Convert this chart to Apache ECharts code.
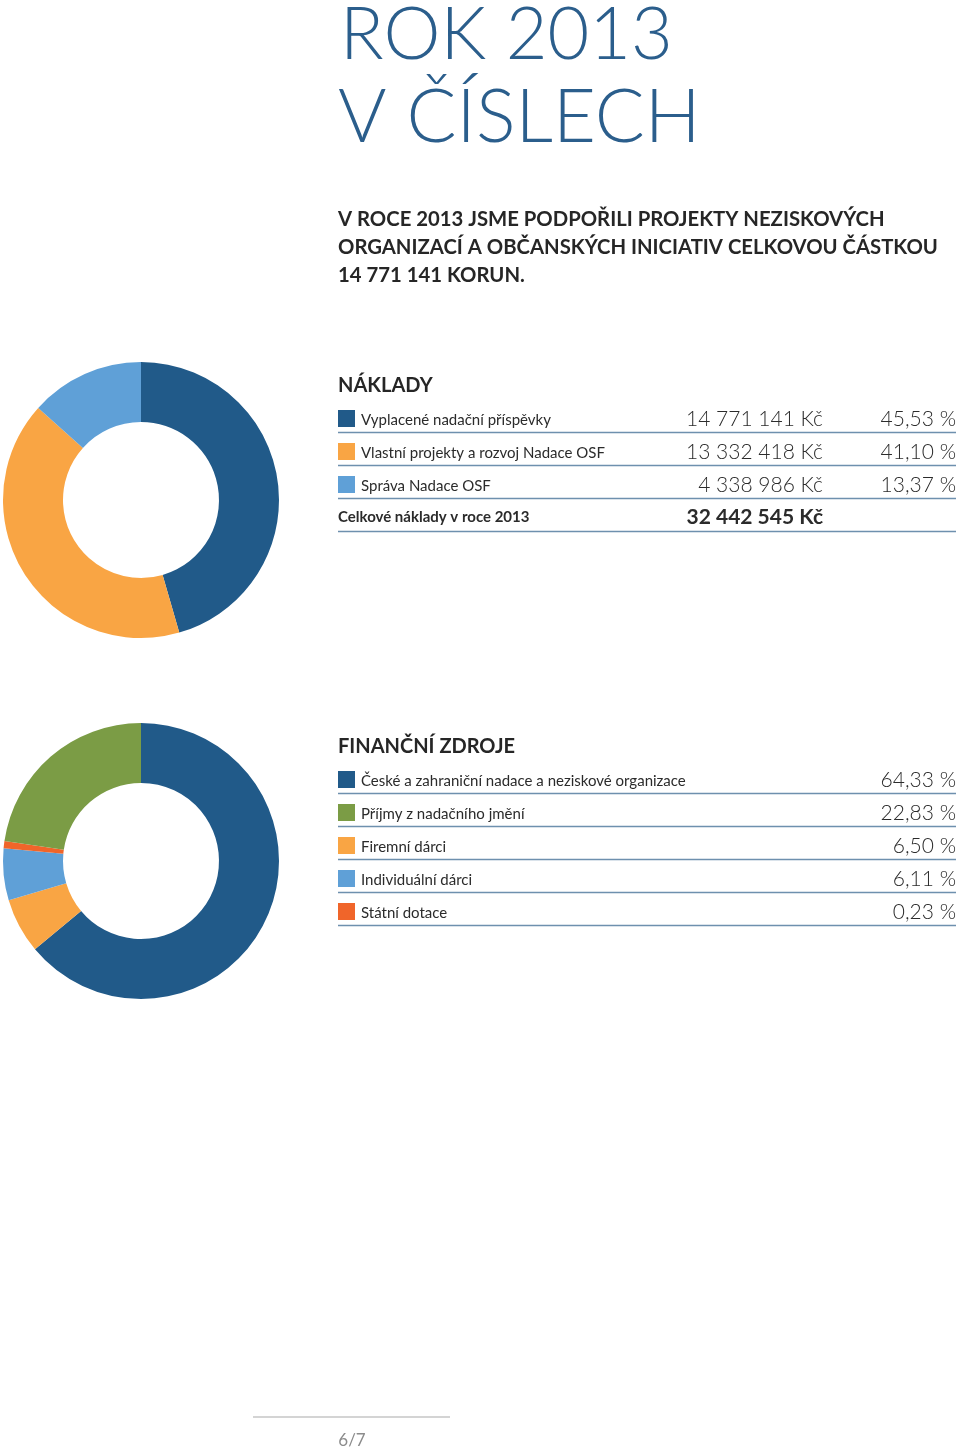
<!DOCTYPE html>
<html><head><meta charset="utf-8">
<script src="https://cdn.jsdelivr.net/npm/echarts@6/dist/echarts.min.js"></script>
<style>html,body{margin:0;padding:0;background:#fff}#c{width:960px;height:1454px}</style>
</head><body><div id="c"></div>
<script>
const titleLines = ['ROK 2013', 'V ČÍSLECH'];
const introLines = ['V ROCE 2013 JSME PODPOŘILI PROJEKTY NEZISKOVÝCH', 'ORGANIZACÍ A OBČANSKÝCH INICIATIV CELKOVOU ČÁSTKOU', '14 771 141 KORUN.'];

const costTitle = 'NÁKLADY';
const costLabels = ['Vyplacené nadační příspěvky', 'Vlastní projekty a rozvoj Nadace OSF', 'Správa Nadace OSF'];
const costValues = [14771141, 13332418, 4338986];
const costAmounts = ['14 771 141 Kč', '13 332 418 Kč', '4 338 986 Kč'];
const costPercents = ['45,53 %', '41,10 %', '13,37 %'];
const costTotalLabel = 'Celkové náklady v roce 2013';
const costTotal = '32 442 545 Kč';

const sourceTitle = 'FINANČNÍ ZDROJE';
const sourceLabels = ['České a zahraniční nadace a neziskové organizace', 'Příjmy z nadačního jmění', 'Firemní dárci', 'Individuální dárci', 'Státní dotace'];
const sourceValues = [64.33, 22.83, 6.50, 6.11, 0.23];
const sourcePercents = ['64,33 %', '22,83 %', '6,50 %', '6,11 %', '0,23 %'];
const sourcePieOrder = [0, 2, 3, 4, 1];

const pageLabel = '6/7';

const C = {blue:'#215a89', orange:'#f9a544', light:'#5fa0d7', green:'#7b9c45', red:'#f0652a'};
const costColors = [C.blue, C.orange, C.light];
const sourceColors = [C.blue, C.green, C.orange, C.light, C.red];
const FONT = 'Lato, "Open Sans", sans-serif';
const TXT = '#2b2b2b';
const RULE = '#6e90ae';

const chart = echarts.init(document.getElementById('c'), null, {renderer:'canvas'});
const g = [];
function txt(text, x, y, size, opts) {
  opts = opts || {};
  g.push({type:'text', x:x, y:y, silent:true, style:{text:text, font:(opts.weight||'normal')+' '+size+'px '+FONT, fill:opts.fill||TXT, textAlign:opts.align||'left', textVerticalAlign:'middle'}});
}
function rule(y, x1, x2, color, w) {
  g.push({type:'line', silent:true, shape:{x1:x1, y1:y, x2:x2, y2:y}, style:{stroke:color||RULE, lineWidth:w||1.5}});
}
function square(x, y, color) {
  g.push({type:'rect', silent:true, shape:{x:x, y:y, width:17, height:17}, style:{fill:color}});
}

// titles
txt(titleLines[0], 340, 36, 72, {weight:300, fill:'#2b5e8c'});
txt(titleLines[1], 338, 118, 74, {weight:300, fill:'#2b5e8c'});
introLines.forEach((l, i) => txt(l, 338, 219 + i*28, 20.3, {weight:'bold', fill:'#262626'}));

// cost table
txt(costTitle, 338, 386, 20, {weight:'bold', fill:'#262626'});
costLabels.forEach((l, i) => {
  const yc = 420 + i*33;
  square(338, yc - 10, costColors[i]);
  txt(l, 361, yc, 15);
  txt(costAmounts[i], 823, yc - 1, 21, {weight:300, align:'right'});
  txt(costPercents[i], 956, yc - 1, 21, {weight:300, align:'right'});
  rule(yc + 12.5, 338, 956);
});
txt(costTotalLabel, 338, 517, 15, {weight:'bold'});
txt(costTotal, 823, 517, 21, {weight:'bold', align:'right'});
rule(531.5, 338, 956);

// source table
txt(sourceTitle, 338, 747, 20, {weight:'bold', fill:'#262626'});
sourceLabels.forEach((l, i) => {
  const yc = 781 + i*33;
  square(338, yc - 10, sourceColors[i]);
  txt(l, 361, yc, 15);
  txt(sourcePercents[i], 956, yc - 1, 21, {weight:300, align:'right'});
  rule(yc + 12.5, 338, 956);
});

// footer
rule(1417, 253, 450, '#d4d4d4', 2);
txt(pageLabel, 352, 1441, 17, {fill:'#8c8c8c', align:'center'});

chart.setOption({
  animation:false,
  series:[
    {type:'pie', center:[141,500], radius:[78,138], startAngle:90, clockwise:true, label:{show:false}, labelLine:{show:false}, silent:true,
     itemStyle:{borderWidth:0},
     data: costLabels.map((l,i)=>({name:l, value:costValues[i], itemStyle:{color:costColors[i]}}))},
    {type:'pie', center:[141,861], radius:[78,138], startAngle:90, clockwise:true, minAngle:3, label:{show:false}, labelLine:{show:false}, silent:true,
     itemStyle:{borderWidth:0},
     data: sourcePieOrder.map(i=>({name:sourceLabels[i], value:sourceValues[i], itemStyle:{color:sourceColors[i]}}))}
  ],
  graphic: g
});
</script></body></html>
